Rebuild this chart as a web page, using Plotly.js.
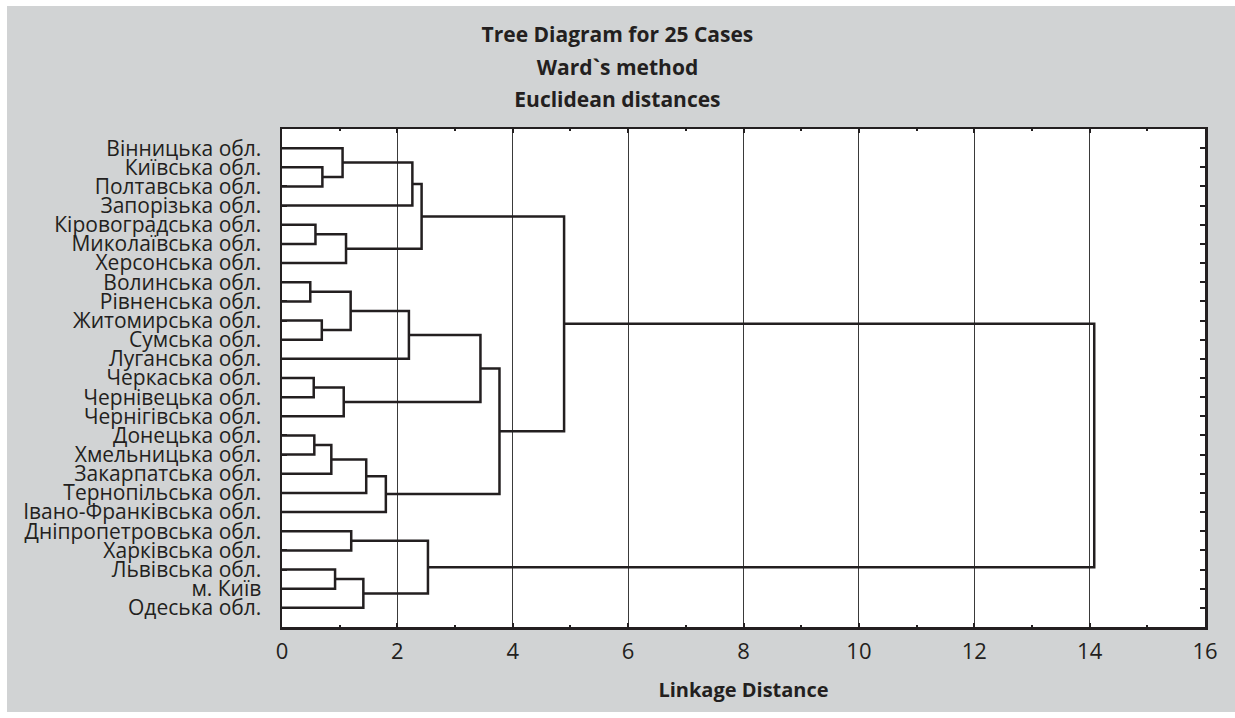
<!DOCTYPE html>
<html>
<head>
<meta charset="utf-8">
<script src="https://cdn.plot.ly/plotly-3.0.1.min.js"></script>
<style>
  html, body { margin: 0; padding: 0; background: #ffffff; }
  #chart { position: absolute; left: 7px; top: 6px; width: 1228px; height: 706px; }
</style>
</head>
<body>
<div id="chart"></div>
<script>
// Leaf labels (top to bottom)
const labels = [
  "Вінницька обл.", "Київська обл.", "Полтавська обл.", "Запорізька обл.",
  "Кіровоградська обл.", "Миколаївська обл.", "Херсонська обл.", "Волинська обл.",
  "Рівненська обл.", "Житомирська обл.", "Сумська обл.", "Луганська обл.",
  "Черкаська обл.", "Чернівецька обл.", "Чернігівська обл.", "Донецька обл.",
  "Хмельницька обл.", "Закарпатська обл.", "Тернопільська обл.", "Івано-Франківська обл.",
  "Дніпропетровська обл.", "Харківська обл.", "Львівська обл.", "м. Київ", "Одеська обл."
];
// Linkage: ids 0..24 are leaves, merge k creates id 25+k
const mergeA = [1, 0, 26, 4, 28, 27, 7, 9, 31, 33, 12, 35, 34, 15, 38, 39, 40, 37, 30, 20, 22, 45, 44, 43];
const mergeB = [2, 25, 3, 5, 6, 29, 8, 10, 32, 11, 13, 14, 36, 16, 17, 18, 19, 41, 42, 21, 23, 24, 46, 47];
const mergeH = [0.70, 1.05, 2.26, 0.58, 1.11, 2.42, 0.49, 0.69, 1.19, 2.20, 0.55, 1.07, 3.44, 0.56, 0.855, 1.46, 1.80, 3.77, 4.89, 1.20, 0.92, 1.41, 2.53, 14.08];
const xTicks = [0, 2, 4, 6, 8, 10, 12, 14, 16];

const n = labels.length;
const posY = [], posH = [];
for (let i = 0; i < n; i++) { posY.push(i + 1); posH.push(0); }
const xs = [], ys = [];
for (let k = 0; k < mergeH.length; k++) {
  const a = mergeA[k], b = mergeB[k], h = mergeH[k];
  xs.push(posH[a], h, h, posH[b], null);
  ys.push(posY[a], posY[a], posY[b], posY[b], null);
  posY.push((posY[a] + posY[b]) / 2);
  posH.push(h);
}

const ink = '#231f20';
const fam = '"Open Sans", "Noto Sans", sans-serif';

const trace = {
  type: 'scatter', mode: 'lines', x: xs, y: ys,
  line: { color: ink, width: 2.5 }, hoverinfo: 'skip', showlegend: false
};

const ts = (s) => '<span style="font-size:21px">' + s + '</span>';

const layout = {
  width: 1228, height: 706,
  paper_bgcolor: '#d1d3d4', plot_bgcolor: '#ffffff',
  margin: { l: 275, r: 30, t: 123, b: 85, pad: 0 },
  font: { family: fam, color: ink, size: 20 },
  title: {
    text: ts('<b>Tree Diagram for 25 Cases</b>') + '<br>' + ts('<b>Ward`s method</b>') + '<br>' + ts('<b>Euclidean distances</b>'),
    font: { family: fam, size: 25, color: ink },
    xref: 'container', x: 0.4971, xanchor: 'center',
    yref: 'container', y: 0.949, yanchor: 'top'
  },
  xaxis: {
    range: [0, 16], tickvals: xTicks, ticktext: xTicks.map(String),
    ticks: 'inside', ticklen: 4, tickwidth: 2, tickcolor: ink,
    minor: { dtick: 1, tick0: 0, ticks: 'inside', ticklen: 2, tickwidth: 2, tickcolor: ink, showgrid: false },
    showgrid: true, gridcolor: '#3a3a3a', gridwidth: 1,
    showline: true, linecolor: ink, linewidth: 2.5, mirror: 'ticks',
    zeroline: false, tickfont: { size: 22, color: ink, family: fam },
    ticklabelstandoff: 3,
    title: { text: '<b>Linkage Distance</b>', font: { size: 20, color: ink, family: fam }, standoff: 19 },
    fixedrange: true
  },
  yaxis: {
    range: [26, 0], tickvals: labels.map((_, i) => i + 1), ticktext: labels,
    ticks: 'inside', ticklen: 5, tickwidth: 2, tickcolor: ink,
    showgrid: false, zeroline: false,
    showline: true, linecolor: ink, linewidth: 2.5, mirror: 'ticks',
    tickfont: { size: 21, color: ink, family: fam },
    ticklabelstandoff: 14,
    fixedrange: true
  }
};

Plotly.newPlot('chart', [trace], layout, { displayModeBar: false, staticPlot: true });
</script>
</body>
</html>
